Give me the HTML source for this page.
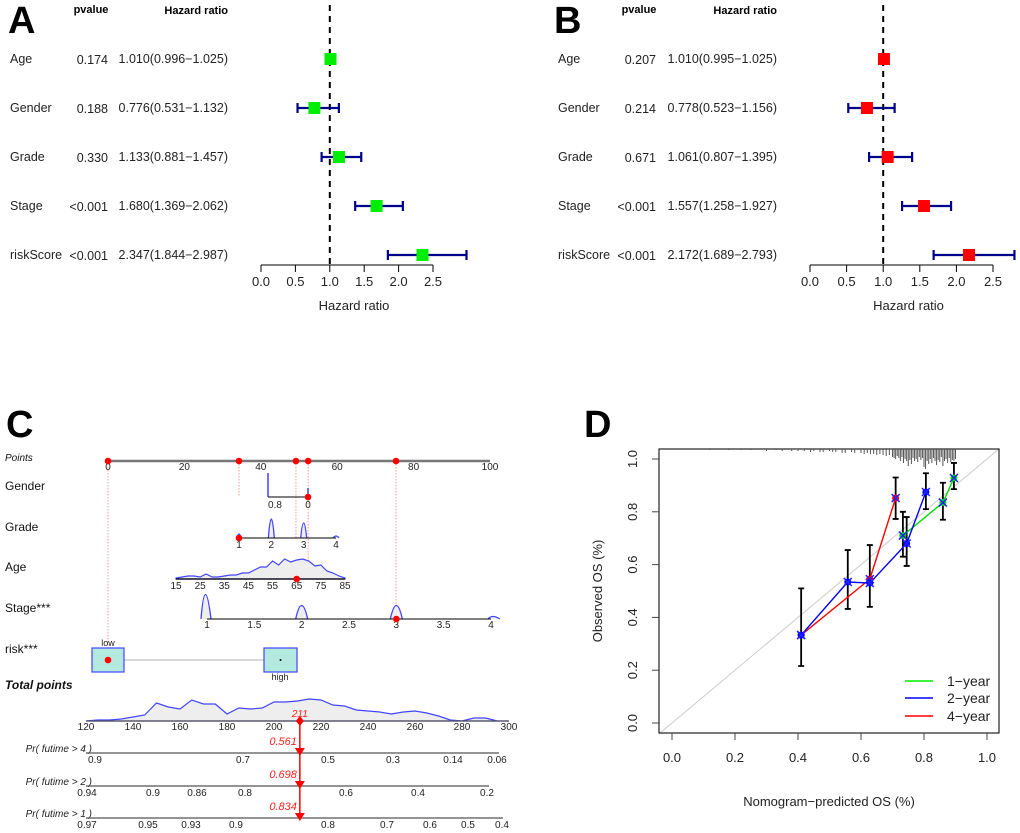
<!DOCTYPE html>
<html><head><meta charset="utf-8"><style>
html,body{margin:0;padding:0;background:#fff;}
svg{display:block;font-family:"Liberation Sans",Arial,sans-serif;}
</style></head><body>
<svg id="fig" width="1020" height="833" viewBox="0 0 1020 833" xmlns="http://www.w3.org/2000/svg">
<g id="pA"></g>
<g id="pB"></g>
<g id="pC"></g>
<g id="pD"></g>
</svg>
<script>
// ---------- Data ----------
const forestVars = ["Age","Gender","Grade","Stage","riskScore"];
const pvalsA = ["0.174","0.188","0.330","<0.001","<0.001"];
const hrA = [1.010,0.776,1.133,1.680,2.347];
const loA = [0.996,0.531,0.881,1.369,1.844];
const hiA = [1.025,1.132,1.457,2.062,2.987];
const pvalsB = ["0.207","0.214","0.671","<0.001","<0.001"];
const hrB = [1.010,0.778,1.061,1.557,2.172];
const loB = [0.995,0.523,0.807,1.258,1.689];
const hiB = [1.025,1.156,1.395,1.927,2.793];
const hrTicks = [0,0.5,1,1.5,2,2.5];

const pointsTicks = [0,20,40,60,80,100];
const selectedPoints = [0,34.3,49.2,52.4,75.4];
const genderTicks = ["0.8","0"];
const gradeTicks = [1,2,3,4];
const ageTicks = [15,25,35,45,55,65,75,85];
const ageDensAges = [15,17.5,20,22.5,25,27.5,30,32.5,35,37.5,40,42.5,45,47.5,50,52.5,55,57.5,60,62.5,65,67.5,70,72.5,75,77.5,80,82.5,85];
const ageDensVals = [1,2,3,3,2,5,2,2,3,4,4,6,6,9,12,12,18,14,20,17,19,20,18,13,14,8,6,3,1];
const stageTicks = [1,1.5,2,2.5,3,3.5,4];
const totalTicks = [120,140,160,180,200,220,240,260,280,300];
const totalDensX = [120,125,130,135,140,145,150,155,160,165,170,175,180,185,190,195,200,205,210,215,220,225,230,235,240,245,250,255,260,265,270,275,280,285,290,295,300];
const totalDensVals = [0,1,1,2,4,6,18,14,12,21,17,17,7,13,12,13,19,19,20,22,21,16,15,11,10,9,7,9,10,8,5,1,0,3,3,0,0];
const totalScore = 211;
const prLabels = ["Pr( futime > 4 )","Pr( futime > 2 )","Pr( futime > 1 )"];
const prValues = ["0.561","0.698","0.834"];
const pr4Ticks = ["0.9","0.7","0.5","0.3","0.14","0.06"];
const pr2Ticks = ["0.94","0.9","0.86","0.8","0.6","0.4","0.2"];
const pr1Ticks = ["0.97","0.95","0.93","0.9","0.8","0.7","0.6","0.5","0.4"];

const calX1 = [0.733,0.86,0.895];
const calY1 = [0.71,0.835,0.928];
const calX2 = [0.41,0.558,0.628,0.745,0.806];
const calY2 = [0.333,0.534,0.53,0.68,0.875];
const calX4 = [0.41,0.628,0.71];
const calY4 = [0.333,0.545,0.852];
const errX = [0.41,0.558,0.628,0.71,0.733,0.745,0.806,0.86,0.895];
const errLo = [0.216,0.432,0.44,0.773,0.63,0.595,0.81,0.77,0.886];
const errHi = [0.51,0.655,0.674,0.93,0.80,0.78,0.946,0.91,0.985];
const rugX = [0.12,0.18,0.22,0.25,0.3,0.33,0.35,0.38,0.4,0.42,0.44,0.45,0.47,0.48,0.5,0.51,0.52,0.54,0.55,0.57,0.58,0.6,0.61,0.62,0.63,0.64,0.65,0.66,0.67,0.68,0.69,0.7,0.705,0.71,0.715,0.72,0.725,0.73,0.735,0.74,0.745,0.75,0.755,0.76,0.765,0.77,0.775,0.78,0.785,0.79,0.795,0.8,0.805,0.81,0.815,0.82,0.825,0.83,0.835,0.84,0.845,0.85,0.855,0.86,0.865,0.87,0.875,0.88,0.885,0.89,0.895,0.9];
const rugLen = [1,1,1,1,2,1,2,2,2,2,3,2,3,3,2,3,3,4,4,3,4,4,5,4,5,5,6,5,6,7,6,8,9,10,7,9,12,8,14,10,12,17,11,15,9,12,10,13,8,11,9,18,20,12,15,10,14,9,12,16,11,13,8,17,12,10,14,9,13,11,12,10];
const calTicks = [0,0.2,0.4,0.6,0.8,1.0];

// ---------- helpers ----------
const NS="http://www.w3.org/2000/svg";
function mk(parent,tag,attrs,text){const e=document.createElementNS(NS,tag);for(const k in attrs)e.setAttribute(k,attrs[k]);if(text!==undefined)e.textContent=text;parent.appendChild(e);return e;}

// ---------- Forest plots ----------
function forest(g,off,letter,axL,axR,dashTop,pvals,hr,lo,hi,col,labX,pvX,hrX,pvHX){
  const sx=v=>axL+v*(axR-axL)/2.5;
  const rowY=[59,108,157,206,255];
  let t=mk(g,'text',{x:off,y:33,'font-size':38,'font-weight':'bold'},letter);
  
  
  t=mk(g,'text',{x:pvHX,y:13,'font-size':11,'font-weight':'bold','text-anchor':'middle'},'pvalue');
  
  
  t=mk(g,'text',{x:hrX,y:14,'font-size':11,'font-weight':'bold','text-anchor':'end'},'Hazard ratio');
  
  
  let l=mk(g,'line',{x1:sx(1),x2:sx(1),y1:dashTop,y2:265,stroke:'#000','stroke-width':2,'stroke-dasharray':'6,5'});
  
  
  forestVars.forEach((v,i)=>{
    const y=rowY[i];
    let a=mk(g,'text',{x:labX,y:y+4,'font-size':12.5,fill:'#222'},v);
    
    
    a=mk(g,'text',{x:pvX,y:y+5,'font-size':12.5,'text-anchor':'end',fill:'#222'},pvals[i]);
    
    
    a=mk(g,'text',{x:hrX,y:y+4,'font-size':12.5,'text-anchor':'end',fill:'#222'},hr[i].toFixed(3)+'('+lo[i].toFixed(3)+'\u2212'+hi[i].toFixed(3)+')');
    
    
    const ci=mk(g,'path',{d:`M${sx(lo[i])},${y-5}V${y+5}M${sx(lo[i])},${y}H${sx(hi[i])}M${sx(hi[i])},${y-5}V${y+5}`,stroke:'#00008b','stroke-width':2.2,fill:'none'});
    
    
    const sq=mk(g,'rect',{x:sx(hr[i])-6,y:y-6,width:12,height:12,fill:col});
    
    
  });
  const ax=mk(g,'g',{});
  
  
  mk(ax,'line',{x1:sx(0),x2:sx(2.5),y1:265,y2:265,stroke:'#000','stroke-width':1});
  hrTicks.forEach(v=>{
    mk(ax,'line',{x1:sx(v),x2:sx(v),y1:265,y2:272,stroke:'#000'});
    const tt=mk(ax,'text',{x:sx(v),y:286,'font-size':13,'text-anchor':'middle',fill:'#222'},v.toFixed(1));
    
    
  });
  t=mk(g,'text',{x:(sx(0)+sx(2.5))/2+7,y:310,'font-size':13,'text-anchor':'middle',fill:'#222'},'Hazard ratio');
  
  
}
forest(document.getElementById('pA'),8,'A',261,433,5,pvalsA,hrA,loA,hiA,'#00ee00',10,108,228,91);
forest(document.getElementById('pB'),554,'B',810,993,5,pvalsB,hrB,loB,hiB,'#ff0000',558,656,777,639);

// ---------- Nomogram ----------
(function(){
  const g=document.getElementById('pC');
  const px=v=>108+v*(490-108)/100;
  let t=mk(g,'text',{x:6,y:437,'font-size':38,'font-weight':'bold'},'C');
  
  
  const rows=[["Points",461,true,false],["Gender",490,false,false],["Grade",531,false,false],["Age",571,false,false],["Stage***",612,false,false],["risk***",653,false,false],["Total points",689,true,true]];
  rows.forEach(r=>{const e=mk(g,'text',{x:5,y:r[1],'font-size':r[2]&&!r[3]?10:12,'font-style':r[2]?'italic':'normal','font-weight':r[3]?'bold':'normal',fill:'#111'},r[0]);
    
    });
  const guideBottom=[660,497,538,579,619];
  selectedPoints.forEach((p,i)=>{
    const l=mk(g,'line',{x1:px(p),x2:px(p),y1:461,y2:guideBottom[i],stroke:'#f99','stroke-width':1,'stroke-dasharray':'1.5,1.5'});
    
    
  });
  mk(g,'line',{x1:px(0),x2:px(100),y1:461,y2:461,stroke:'#777','stroke-width':2.5});
  pointsTicks.forEach(v=>{const e=mk(g,'text',{x:px(v),y:470,'font-size':10,'text-anchor':'middle',fill:'#222'},v);
    
    });
  selectedPoints.forEach(p=>{const c=mk(g,'circle',{cx:px(p),cy:461,r:3.3,fill:'#f00'});
    
    });
  const gx0=268,gx1=308;
  mk(g,'path',{d:`M${gx0},497V473M${gx1},497V488`,stroke:'#44f','stroke-width':1.5,fill:'none'});
  mk(g,'line',{x1:gx0,x2:gx1,y1:497,y2:497,stroke:'#000'});
  [gx0,gx1].forEach((x,i)=>{const e=mk(g,'text',{x:x+(i?0:7),y:508,'font-size':10,'text-anchor':'middle',fill:'#222'},genderTicks[i]);
    
    });
  let c=mk(g,'circle',{cx:gx1,cy:497,r:3.3,fill:'#f00'});
  
  
  const gr=v=>239+(v-1)*(336-239)/3;
  mk(g,'path',{d:`M${gr(1)-2},538Q${gr(1)},530 ${gr(1)+2},538M${gr(2)-3},538Q${gr(2)},500 ${gr(2)+3},538M${gr(3)-3},538Q${gr(3)},508 ${gr(3)+3},538M${gr(4)-3},538Q${gr(4)},534 ${gr(4)+3},538`,stroke:'#44f','stroke-width':1.3,fill:'#eee'});
  mk(g,'line',{x1:gr(1),x2:gr(4),y1:538,y2:538,stroke:'#000'});
  gradeTicks.forEach(v=>{const e=mk(g,'text',{x:gr(v),y:548,'font-size':10,'text-anchor':'middle',fill:'#222'},v);
    
    });
  c=mk(g,'circle',{cx:gr(1),cy:538,r:3.3,fill:'#f00'});
  
  
  const ag=v=>176+(v-15)*(345-176)/70;
  let d='M'+ag(ageDensAges[0])+',579';
  ageDensAges.forEach((a,i)=>{d+=`L${ag(a)},${579-ageDensVals[i]}`;});
  d+=`L${ag(85)},579Z`;
  const ad=mk(g,'path',{d:d,stroke:'#44f','stroke-width':1.2,fill:'#eee'});
  
  
  mk(g,'line',{x1:ag(15),x2:ag(85),y1:579,y2:579,stroke:'#000','stroke-width':1.3});
  ageTicks.forEach(v=>{const e=mk(g,'text',{x:ag(v),y:589,'font-size':10,'text-anchor':'middle',fill:'#222'},v);
    
    });
  c=mk(g,'circle',{cx:ag(65),cy:579,r:3.3,fill:'#f00'});
  
  
  const st=v=>207+(v-1)*(491-207)/3;
  mk(g,'path',{d:`M${st(1)-6},619Q${st(1)-2},570 ${st(1)+4},619M${st(2)-6},619Q${st(2)},592 ${st(2)+6},619M${st(3)-6},619Q${st(3)},592 ${st(3)+6},619M${st(4)-3},619Q${st(4)+1},614 ${st(4)+9},619`,stroke:'#44f','stroke-width':1.3,fill:'#eee'});
  mk(g,'line',{x1:st(1),x2:st(4),y1:619,y2:619,stroke:'#000'});
  stageTicks.forEach(v=>{const e=mk(g,'text',{x:st(v),y:628,'font-size':10,'text-anchor':'middle',fill:'#222'},v);
    
    });
  c=mk(g,'circle',{cx:st(3),cy:619,r:3.3,fill:'#f00'});
  
  
  mk(g,'line',{x1:124,x2:264,y1:660,y2:660,stroke:'#ccc','stroke-width':1.5});
  let b=mk(g,'rect',{x:92,y:648,width:32,height:24,fill:'#b3e9df',stroke:'#44f','stroke-width':1.2});
  
  
  b=mk(g,'rect',{x:264,y:648,width:33,height:24,fill:'#b3e9df',stroke:'#44f','stroke-width':1.2});
  
  
  mk(g,'circle',{cx:280.5,cy:660,r:1,fill:'#000'});
  t=mk(g,'text',{x:108,y:646,'font-size':9,'text-anchor':'middle',fill:'#222'},'low');
  
  
  t=mk(g,'text',{x:280,y:680,'font-size':9,'text-anchor':'middle',fill:'#222'},'high');
  
  
  c=mk(g,'circle',{cx:108,cy:660,r:3.3,fill:'#f00'});
  
  
  const tp=v=>86+(v-120)*(509-86)/180;
  d='M'+tp(120)+',721';
  totalDensX.forEach((a,i)=>{d+=`L${tp(a)},${721-totalDensVals[i]}`;});
  d+='Z';
  const td=mk(g,'path',{d:d,stroke:'#44f','stroke-width':1.2,fill:'#eee'});
  
  
  mk(g,'line',{x1:tp(120),x2:tp(300),y1:721,y2:721,stroke:'#555','stroke-width':1.3});
  totalTicks.forEach(v=>{const e=mk(g,'text',{x:tp(v),y:730,'font-size':10,'text-anchor':'middle',fill:'#222'},v);
    
    });
  const xs=tp(totalScore);
  const vl=mk(g,'line',{x1:xs,x2:xs,y1:721,y2:815,stroke:'#f00','stroke-width':1.5});
  
  
  const dm=mk(g,'path',{d:`M${xs},716L${xs+4},721L${xs},726L${xs-4},721Z`,fill:'#f00'});
  
  
  t=mk(g,'text',{x:xs,y:717,'font-size':10,'font-style':'italic','text-anchor':'middle',fill:'#f22'},totalScore);
  
  
  const prY=[753,786,818];
  const prTicks=[pr4Ticks,pr2Ticks,pr1Ticks];
  const prTickX=[[95,243,328,393,453,497],[87,153,197,245,346,418,487],[87,148,191,236,328,387,430,468,502]];
  const prEnd=[499,489,503];
  prY.forEach((y,k)=>{
    const e=mk(g,'text',{x:92,y:y-1,'font-size':10,'font-style':'italic','text-anchor':'end',fill:'#222'},prLabels[k]);
    
    
    mk(g,'line',{x1:86,x2:prEnd[k],y1:y,y2:y,stroke:'#555','stroke-width':1.3});
    prTicks[k].forEach((v,i)=>{const e2=mk(g,'text',{x:prTickX[k][i],y:y+10,'font-size':10,'text-anchor':'middle',fill:'#222'},v);
      
      });
    const tri=mk(g,'path',{d:`M${xs-5},${y-5}L${xs+5},${y-5}L${xs},${y+3}Z`,fill:'#f00'});
    
    
    const pv=mk(g,'text',{x:xs-3,y:y-8,'font-size':11,'font-style':'italic','text-anchor':'end',fill:'#f22'},prValues[k]);
    
    
  });
})();

// ---------- Calibration ----------
(function(){
  const g=document.getElementById('pD');
  const X=v=>672+v*315, Y=v=>723-v*264;
  let t=mk(g,'text',{x:584,y:437,'font-size':38,'font-weight':'bold'},'D');
  
  
  const diag=mk(g,'line',{x1:659,y1:Y((659-672)/315),x2:999,y2:Y((999-672)/315),stroke:'#ccc','stroke-width':1});
  
  
  mk(g,'rect',{x:659,y:449,width:340,height:284,fill:'none',stroke:'#222','stroke-width':1.2});
  rugX.forEach((v,i)=>{const r=mk(g,'line',{x1:X(v),x2:X(v),y1:449,y2:449+rugLen[i],stroke:'#555','stroke-width':1});
    
    });
  calTicks.forEach(v=>{
    mk(g,'line',{x1:X(v),x2:X(v),y1:733,y2:740,stroke:'#444'});
    let e=mk(g,'text',{x:X(v),y:762,'font-size':13,'text-anchor':'middle',fill:'#222'},v.toFixed(1));
    
    
    mk(g,'line',{x1:652,x2:659,y1:Y(v),y2:Y(v),stroke:'#444'});
    e=mk(g,'text',{x:0,y:0,'font-size':13,'text-anchor':'middle',fill:'#222',transform:`translate(637,${Y(v)}) rotate(-90)`},v.toFixed(1));
    
    
  });
  t=mk(g,'text',{x:829,y:806,'font-size':13,'text-anchor':'middle',fill:'#222'},'Nomogram\u2212predicted OS (%)');
  
  
  t=mk(g,'text',{x:0,y:0,'font-size':13,'text-anchor':'middle',fill:'#222',transform:'translate(602,591) rotate(-90)'},'Observed OS (%)');
  
  
  errX.forEach((x,i)=>{const e=mk(g,'path',{d:`M${X(x)-3},${Y(errHi[i])}H${X(x)+3}M${X(x)},${Y(errHi[i])}V${Y(errLo[i])}M${X(x)-3},${Y(errLo[i])}H${X(x)+3}`,stroke:'#000','stroke-width':1.8,fill:'none'});
    
    });
  function series(xs,ys,col,name){
    let d='';xs.forEach((x,i)=>{d+=(i?'L':'M')+X(x)+','+Y(ys[i]);});
    const p=mk(g,'path',{d:d,stroke:col,'stroke-width':1.4,fill:'none'});
    
    
    xs.forEach((x,i)=>{const c=mk(g,'circle',{cx:X(x),cy:Y(ys[i]),r:3.5,fill:col});
      
      
      mk(g,'path',{d:`M${X(x)-4},${Y(ys[i])-4}L${X(x)+4},${Y(ys[i])+4}M${X(x)+4},${Y(ys[i])-4}L${X(x)-4},${Y(ys[i])+4}`,stroke:'#22f','stroke-width':1.5});
    });
  }
  series(calX4,calY4,'#ff0000','4-year');
  series(calX1,calY1,'#00dd00','1-year');
  series(calX2,calY2,'#0000ff','2-year');
  const leg=mk(g,'g',{});
  
  
  [['1\u2212year','#00ee00',681],['2\u2212year','#0000ff',698],['4\u2212year','#ff0000',716]].forEach(r=>{
    mk(leg,'line',{x1:905,x2:933,y1:r[2],y2:r[2],stroke:r[1],'stroke-width':1.5});
    const e=mk(leg,'text',{x:947,y:r[2]+5,'font-size':14,fill:'#222'},r[0]);
    
    
  });
})();
</script>
</body></html>
